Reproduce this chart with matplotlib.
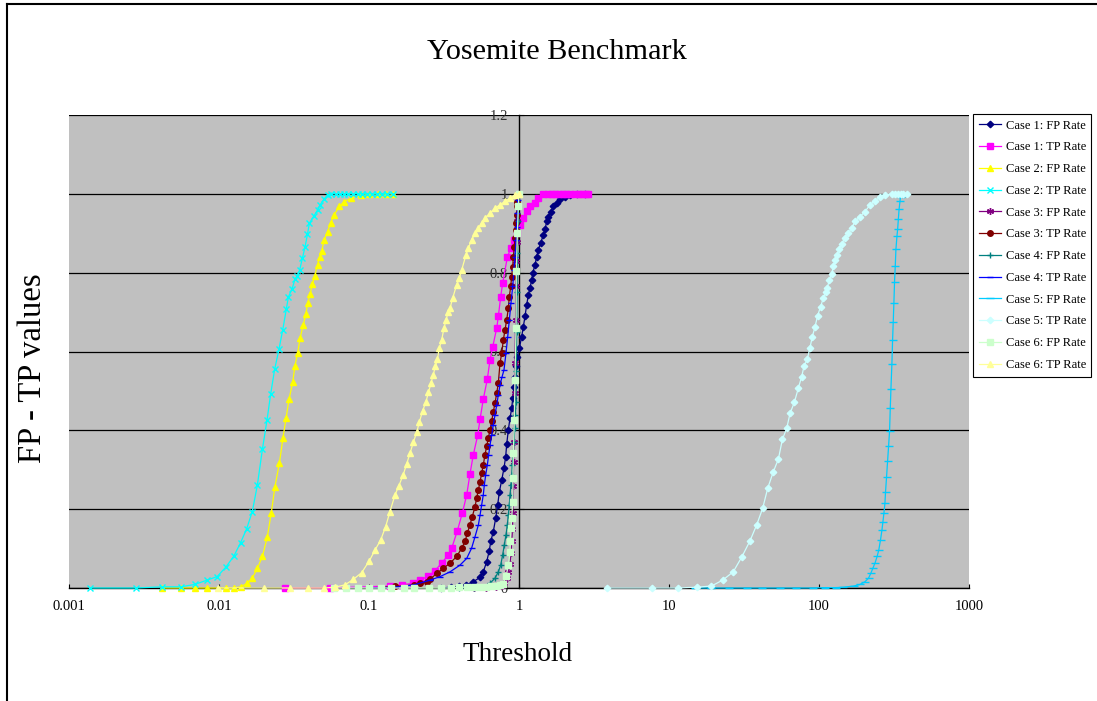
import matplotlib
matplotlib.use("Agg")
import matplotlib.pyplot as plt
from matplotlib.lines import Line2D

plt.rcParams["font.family"] = ["Liberation Serif", "DejaVu Serif"]

# values
case1_fp_x = [0.30, 0.35, 0.40, 0.443, 0.496, 0.550, 0.578, 0.609, 0.634, 0.648, 0.674, 0.699, 0.721, 0.739, 0.767,
              0.794, 0.815, 0.828, 0.849, 0.871, 0.894, 0.908, 0.925, 0.940, 0.955, 0.975, 1.005, 1.042, 1.069, 1.096,
              1.125, 1.154, 1.184, 1.215, 1.234, 1.279, 1.312, 1.345, 1.395, 1.452, 1.491, 1.530, 1.569, 1.627, 1.693,
              1.783, 1.875, 2.026, 2.187, 2.42, 2.75]
case1_fp_y = [0.0, 0.002, 0.004, 0.008, 0.016, 0.027, 0.041, 0.067, 0.095, 0.118, 0.143, 0.177, 0.211, 0.243, 0.274,
              0.304, 0.333, 0.365, 0.401, 0.431, 0.456, 0.481, 0.51, 0.536, 0.562, 0.587, 0.608, 0.638, 0.663, 0.689,
              0.718, 0.744, 0.761, 0.782, 0.799, 0.820, 0.841, 0.858, 0.875, 0.896, 0.910, 0.930, 0.942, 0.955, 0.968,
              0.978, 0.987, 0.993, 0.997, 0.999, 1.0]

case1_tp_x = [0.0276, 0.055, 0.138, 0.165, 0.198, 0.219, 0.249, 0.275, 0.305, 0.338, 0.356, 0.388, 0.419, 0.448, 0.471,
              0.496, 0.530, 0.550, 0.578, 0.615, 0.641, 0.668, 0.710, 0.728, 0.755, 0.778, 0.836, 0.88, 0.93, 0.965,
              1.015, 1.069, 1.125, 1.184, 1.279, 1.345, 1.452, 1.55, 1.65, 1.75, 1.85, 1.95, 2.05, 2.2, 2.35, 2.5,
              2.65, 2.8, 2.9]
case1_tp_y = [0.0, 0.0, 0.005, 0.008, 0.012, 0.020, 0.030, 0.044, 0.063, 0.084, 0.101, 0.145, 0.190, 0.236, 0.289,
              0.338, 0.387, 0.428, 0.479, 0.530, 0.579, 0.612, 0.659, 0.689, 0.739, 0.773, 0.839, 0.862, 0.884, 0.900,
              0.921, 0.939, 0.956, 0.968, 0.977, 0.989, 1.0, 1.0, 1.0, 1.0, 1.0, 1.0, 1.0, 1.0, 1.0, 1.0,
              1.0, 1.0, 1.0]

case2_fp_x = [0.00417, 0.00558, 0.00689, 0.00833, 0.01117, 0.01256, 0.01393, 0.01544, 0.01667, 0.01802, 0.01947,
              0.0210, 0.0223, 0.0236, 0.0253, 0.0267, 0.0280, 0.0293, 0.0310, 0.0321, 0.0335, 0.0347, 0.0364, 0.0379,
              0.0391, 0.0405, 0.0420, 0.0435, 0.0454, 0.0468, 0.0485, 0.0502, 0.0529, 0.0557, 0.0586, 0.0633, 0.0684,
              0.0758, 0.0884, 0.1, 0.114, 0.13, 0.144]
case2_fp_y = [0, 0, 0, 0, 0, 0, 0.003, 0.012, 0.025, 0.050, 0.080, 0.130, 0.190, 0.257, 0.318, 0.381, 0.431, 0.479,
              0.522, 0.564, 0.597, 0.634, 0.666, 0.695, 0.723, 0.746, 0.772, 0.792, 0.820, 0.839, 0.856, 0.883, 0.904,
              0.927, 0.947, 0.968, 0.980, 0.989, 0.996, 0.999, 1.0, 1.0, 1.0]

case2_tp_x = [0.00138, 0.0028, 0.00417, 0.00558, 0.00689, 0.00833, 0.00972, 0.01117, 0.01256, 0.01393, 0.01528,
              0.01667, 0.01802, 0.01947, 0.02088, 0.0221, 0.0235, 0.02512, 0.0266, 0.0281, 0.0290, 0.0307, 0.0321,
              0.0333, 0.0345, 0.0360, 0.0375, 0.0389, 0.0401, 0.0431, 0.0454, 0.0472, 0.0502, 0.0529, 0.056, 0.06,
              0.064, 0.068, 0.073, 0.078, 0.084, 0.09, 0.097, 0.105, 0.113, 0.122, 0.132, 0.144]
case2_tp_y = [0, 0, 0.003, 0.003, 0.009, 0.020, 0.029, 0.054, 0.081, 0.115, 0.150, 0.194, 0.261, 0.352, 0.425, 0.492,
              0.555, 0.606, 0.655, 0.707, 0.738, 0.759, 0.783, 0.792, 0.807, 0.837, 0.866, 0.898, 0.926, 0.945, 0.959,
              0.972, 0.987, 0.997, 1.0, 1.0, 1.0, 1.0, 1.0, 1.0, 1.0, 1.0, 1.0, 1.0, 1.0, 1.0, 1.0, 1.0]

case3_fp_x = [0.5, 0.6, 0.7, 0.767, 0.80, 0.83, 0.85, 0.87, 0.885, 0.895, 0.905, 0.91, 0.915, 0.92, 0.925, 0.93,
              0.935, 0.94, 0.95, 0.955, 0.96, 0.965, 0.975, 0.99, 1.0]
case3_fp_y = [0.0, 0.0, 0.002, 0.005, 0.012, 0.025, 0.04, 0.06, 0.09, 0.12, 0.15, 0.19, 0.26, 0.32, 0.37, 0.43,
              0.495, 0.572, 0.68, 0.765, 0.83, 0.879, 0.93, 0.97, 1.0]

case3_tp_x = [0.1, 0.15, 0.2, 0.219, 0.242, 0.255, 0.283, 0.313, 0.347, 0.384, 0.415, 0.437, 0.452, 0.471, 0.488,
              0.509, 0.522, 0.536, 0.550, 0.564, 0.578, 0.593, 0.609, 0.624, 0.641, 0.658, 0.674, 0.692, 0.710, 0.728,
              0.747, 0.767, 0.786, 0.807, 0.828, 0.849, 0.862, 0.880, 0.894, 0.908, 0.917, 0.931, 0.940, 0.950, 0.955,
              0.965, 0.970, 0.975]
case3_tp_y = [0.0, 0.004, 0.008, 0.012, 0.016, 0.022, 0.037, 0.050, 0.063, 0.080, 0.101, 0.118, 0.139, 0.160, 0.181,
              0.206, 0.228, 0.249, 0.270, 0.291, 0.312, 0.338, 0.359, 0.380, 0.401, 0.424, 0.447, 0.469, 0.494, 0.52,
              0.57, 0.596, 0.629, 0.655, 0.680, 0.710, 0.739, 0.765, 0.790, 0.815, 0.841, 0.866, 0.888, 0.909, 0.926,
              0.947, 0.968, 0.980]

case4_fp_x = [0.4, 0.5, 0.578, 0.641, 0.692, 0.728, 0.755, 0.778, 0.798, 0.819, 0.836, 0.849, 0.862, 0.871, 0.884,
              0.894, 0.903, 0.917, 0.926, 0.936, 0.945, 0.955, 0.96, 0.965, 0.97, 0.975, 0.985, 1.0]
case4_fp_y = [0.0, 0.001, 0.003, 0.012, 0.025, 0.041, 0.058, 0.084, 0.109, 0.135, 0.160, 0.185, 0.211, 0.236, 0.261,
              0.287, 0.312, 0.346, 0.371, 0.405, 0.439, 0.473, 0.55, 0.65, 0.75, 0.85, 0.93, 1.0]

case4_tp_x = [0.1, 0.15, 0.2, 0.255, 0.298, 0.347, 0.404, 0.448, 0.483, 0.509, 0.536, 0.550, 0.564, 0.578, 0.587,
              0.600, 0.615, 0.628, 0.641, 0.658, 0.674, 0.692, 0.710, 0.728, 0.747, 0.770, 0.794, 0.819, 0.841, 0.862,
              0.884, 0.908, 0.926, 0.940, 0.955, 0.965, 0.975, 0.980]
case4_tp_y = [0.0, 0.002, 0.008, 0.020, 0.029, 0.041, 0.058, 0.075, 0.101, 0.130, 0.160, 0.185, 0.211, 0.236, 0.261,
              0.287, 0.312, 0.338, 0.363, 0.388, 0.414, 0.439, 0.464, 0.490, 0.515, 0.535, 0.553, 0.596, 0.638, 0.680,
              0.723, 0.765, 0.807, 0.841, 0.883, 0.917, 0.951, 0.985]

case5_fp_x = [15.0, 19.2, 25.0, 32.9, 42.0, 55.0, 70.0, 91.3, 110.0, 130.0, 145.2, 170.4, 187.6, 202.6, 214.0, 221.3,
              228.6, 236.6, 244.0, 250.3, 257.1, 262.8, 266.8, 270.9, 275.1, 277.7, 282.1, 286.5, 290.9, 295.5, 298.6,
              301.6, 306.2, 309.4, 312.6, 315.7, 318.9, 322.4, 325.8, 330.8, 334.4, 338.1, 341.9, 346.7, 349.5, 356.7]
case5_fp_y = [0, 0, 0, 0, 0, 0, 0, 0, 0.001, 0.001, 0.002, 0.005, 0.009, 0.016, 0.025, 0.037, 0.050, 0.064, 0.080,
              0.096, 0.122, 0.147, 0.168, 0.190, 0.215, 0.244, 0.282, 0.321, 0.359, 0.399, 0.456, 0.504, 0.569, 0.628,
              0.676, 0.723, 0.777, 0.817, 0.860, 0.892, 0.910, 0.936, 0.961, 0.981, 0.993, 1.0]

case5_tp_x = [3.88, 7.66, 11.4, 15.3, 19.2, 22.8, 26.8, 30.5, 34.7, 38.4, 42.1, 45.5, 49.6, 53.6, 57.0, 60.9, 64.1,
              68.5, 72.8, 76.6, 79.4, 83.6, 87.1, 90.3, 94.0, 97.9, 102.5, 106.8, 110.7, 113.6, 117.2, 121.4, 124.6,
              127.8, 131.2, 136.7, 141.6, 149.0, 156.9, 165.1, 173.8, 187.6, 202.6, 218.8, 236.2, 255.2, 275.4, 305.0,
              320.0, 335.0, 350.0, 365.0, 384.0]
case5_tp_y = [0, 0, 0, 0.002, 0.005, 0.020, 0.041, 0.078, 0.120, 0.160, 0.202, 0.253, 0.295, 0.327, 0.377, 0.405,
              0.443, 0.471, 0.507, 0.536, 0.562, 0.581, 0.610, 0.638, 0.662, 0.691, 0.714, 0.735, 0.750, 0.761, 0.782,
              0.797, 0.816, 0.831, 0.845, 0.860, 0.873, 0.888, 0.900, 0.913, 0.930, 0.942, 0.955, 0.972, 0.983, 0.991,
              0.997, 1.0, 1.0, 1.0, 1.0, 1.0, 1.0]

case6_fp_x = [0.058, 0.07, 0.085, 0.10, 0.12, 0.14, 0.17, 0.2, 0.25, 0.3, 0.35, 0.4, 0.45, 0.5, 0.55, 0.6, 0.65,
              0.7, 0.75, 0.78, 0.82, 0.85, 0.871, 0.875, 0.884, 0.894, 0.908, 0.912, 0.917, 0.93, 0.94, 0.955, 0.96,
              0.975, 0.99, 1.0]
case6_fp_y = [0, 0, 0, 0, 0, 0, 0, 0, 0, 0, 0, 0.002, 0.002, 0.003, 0.003, 0.003, 0.004, 0.005, 0.007, 0.01, 0.03,
              0.058, 0.092, 0.118, 0.151, 0.177, 0.219, 0.278, 0.342, 0.426, 0.528, 0.659, 0.803, 0.9, 0.97, 1.0]

case6_tp_x = [0.0098, 0.0199, 0.0297, 0.0395, 0.050, 0.0593, 0.0692, 0.0787, 0.0894, 0.1005, 0.1096, 0.1197, 0.1292,
              0.138, 0.149, 0.158, 0.169, 0.178, 0.188, 0.198, 0.208, 0.217, 0.228, 0.240, 0.249, 0.259, 0.268, 0.277,
              0.286, 0.294, 0.305, 0.316, 0.326, 0.338, 0.347, 0.361, 0.384, 0.400, 0.415, 0.443, 0.459, 0.483, 0.509,
              0.536, 0.564, 0.593, 0.641, 0.692, 0.747, 0.807, 0.871, 0.940, 1.0]
case6_tp_y = [0, 0, 0, 0, 0, 0.002, 0.008, 0.022, 0.039, 0.069, 0.096, 0.122, 0.156, 0.194, 0.236, 0.259, 0.287,
              0.314, 0.343, 0.371, 0.395, 0.422, 0.450, 0.473, 0.496, 0.520, 0.541, 0.562, 0.581, 0.608, 0.629, 0.659,
              0.680, 0.701, 0.710, 0.735, 0.769, 0.786, 0.807, 0.845, 0.862, 0.883, 0.900, 0.913, 0.926, 0.939, 0.951,
              0.964, 0.972, 0.981, 0.989, 0.997, 1.0]

series_labels = ["Case 1: FP Rate", "Case 1: TP Rate", "Case 2: FP Rate", "Case 2: TP Rate",
                 "Case 3: FP Rate", "Case 3: TP Rate", "Case 4: FP Rate", "Case 4: TP Rate",
                 "Case 5: FP Rate", "Case 5: TP Rate", "Case 6: FP Rate", "Case 6: TP Rate"]
series_x = [case1_fp_x, case1_tp_x, case2_fp_x, case2_tp_x, case3_fp_x, case3_tp_x,
            case4_fp_x, case4_tp_x, case5_fp_x, case5_tp_x, case6_fp_x, case6_tp_x]
series_y = [case1_fp_y, case1_tp_y, case2_fp_y, case2_tp_y, case3_fp_y, case3_tp_y,
            case4_fp_y, case4_tp_y, case5_fp_y, case5_tp_y, case6_fp_y, case6_tp_y]

x_ticks = [0.001, 0.01, 0.1, 1, 10, 100, 1000]
x_tick_labels = ["0.001", "0.01", "0.1", "1", "10", "100", "1000"]
y_ticks = [0, 0.2, 0.4, 0.6, 0.8, 1.0, 1.2]
y_tick_labels = ["0", "0.2", "0.4", "0.6", "0.8", "1", "1.2"]

# excel-like styles
colors = ["#000080", "#FF00FF", "#FFFF00", "#00FFFF", "#800080", "#800000",
          "#008080", "#0000FF", "#00CCFF", "#CCFFFF", "#CCFFCC", "#FFFF99"]
markers = ["D", "s", "^", "x", (6, 2, 0), "o", "+", "_", "_", "D", "s", "^"]
msizes = [3.3, 4.0, 4.3, 4.3, 5, 4.0, 5, 4, 6, 3.3, 4.0, 4.3]

fig = plt.figure(figsize=(10.97, 7.01), dpi=100)
ax = fig.add_axes([69 / 1097, 1 - 588 / 701, 900 / 1097, 473 / 701])
ax.set_facecolor("#C0C0C0")

for xs, ys, c, m, s, lab in zip(series_x, series_y, colors, markers, msizes, series_labels):
    ax.plot(xs, ys, color=c, marker=m, ms=s, mfc=c, mec=c, mew=1.0, lw=0.9,
            label=lab, clip_on=False, zorder=3)

ax.set_xscale("log")
ax.set_xlim(0.001, 1000)
ax.set_ylim(0, 1.2)
ax.set_xticks(x_ticks)
ax.set_xticklabels(x_tick_labels)
ax.xaxis.set_minor_locator(plt.NullLocator())
ax.set_yticks(y_ticks)
ax.set_yticklabels(y_tick_labels)

ax.grid(axis="y", color="black", lw=0.9)
ax.spines["left"].set_position(("data", 1))
ax.spines["top"].set_visible(False)
ax.spines["right"].set_visible(False)
ax.spines["left"].set_linewidth(1.0)
ax.spines["bottom"].set_linewidth(1.0)
ax.tick_params(axis="y", direction="in", length=3.5, pad=8, labelsize=10.5, labelcolor="#303030")
ax.tick_params(axis="x", direction="in", length=3, pad=9, labelsize=10.5)

fig.text(0.508, 0.926, "Yosemite Benchmark", ha="center", va="center", fontsize=21.8)
fig.text(0.472, 0.066, "Threshold", ha="center", va="center", fontsize=19.5)
fig.text(0.030, 0.475, "FP - TP values", ha="center", va="center", rotation=90, fontsize=23.5)

leg = fig.legend(loc="upper left", bbox_to_anchor=(973 / 1097, 1 - 114 / 701), fontsize=9.0,
                 frameon=True, fancybox=False, edgecolor="black", framealpha=1,
                 handlelength=1.8, handletextpad=0.35, labelspacing=0.78, borderpad=0.45,
                 borderaxespad=0)
leg.get_frame().set_linewidth(0.8)

# outer chart border (top and left edges visible)
fig.add_artist(Line2D([7 / 1097, 1.0], [1 - 3.5 / 701, 1 - 3.5 / 701], color="black", lw=1.5))
fig.add_artist(Line2D([7 / 1097, 7 / 1097], [0.0, 1 - 3.5 / 701], color="black", lw=1.5))

fig.savefig("out.png", dpi=100)
